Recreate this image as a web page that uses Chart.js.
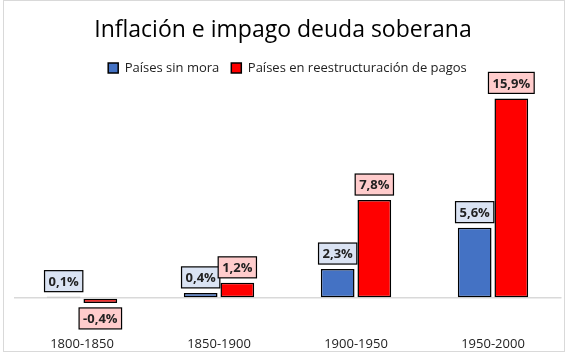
<!DOCTYPE html>
<html>
<head>
<meta charset="utf-8">
<script src="https://cdn.jsdelivr.net/npm/chart.js@4"></script>
<style>
    body { margin: 0; background: #fff; }
    #wrap { width: 560px; height: 350px; margin-left: 3px; border: 1px solid #d9d9d9; }
</style>
</head>
<body>
<div id="wrap"><canvas id="chart" width="560" height="350"></canvas></div>
<script>
// ============================================
// Inflación e impago - datos
// ============================================
const chartTitle = 'Inflación e impago deuda soberana';
const periods = ['1800-1850', '1850-1900', '1900-1950', '1950-2000'];
const sinMora = [0.1, 0.4, 2.3, 5.6];
const reestructuracion = [-0.4, 1.2, 7.8, 15.9];
const seriesNames = ['Países sin mora', 'Países en reestructuración de pagos'];

const fmt = v => v.toFixed(1).replace('.', ',') + '%';

// Title drawn centred on the whole picture (Excel centres it on the frame, not the plot)
const frameTitle = {
    id: 'frameTitle',
    afterDraw(chart) {
        const ctx = chart.ctx;
        ctx.save();
        ctx.font = '23px "Open Sans", sans-serif';
        ctx.fillStyle = '#000';
        ctx.textAlign = 'center';
        ctx.textBaseline = 'alphabetic';
        ctx.fillText(chartTitle, 279, 36);
        ctx.restore();
    }
};

// Draws the boxed value labels like the Excel data callouts
const boxLabels = {
    id: 'boxLabels',
    afterDatasetsDraw(chart) {
        const ctx = chart.ctx;
        const fills = ['#dae3f3', '#ffcccc'];
        ctx.save();
        ctx.font = 'bold 13px "Open Sans", sans-serif';
        ctx.textAlign = 'center';
        ctx.textBaseline = 'middle';
        chart.data.datasets.forEach((ds, di) => {
            chart.getDatasetMeta(di).data.forEach((bar, i) => {
                const v = ds.data[i];
                const txt = fmt(v);
                const w = ctx.measureText(txt).width + 8;
                const h = 21;
                const x = bar.x - w / 2;
                const y = v >= 0 ? bar.y - 5 - h : bar.y + 5;
                ctx.fillStyle = fills[di];
                ctx.fillRect(x, y, w, h);
                ctx.strokeStyle = '#000';
                ctx.lineWidth = 1.2;
                ctx.strokeRect(x, y, w, h);
                ctx.fillStyle = '#222';
                ctx.fillText(txt, bar.x, y + h / 2 + 1);
            });
        });
        ctx.restore();
    }
};

new Chart(document.getElementById('chart'), {
    type: 'bar',
    data: {
        labels: periods,
        datasets: [{
            label: seriesNames[0],
            data: sinMora,
            backgroundColor: '#4472c4',
            borderColor: '#000',
            borderWidth: 1.5,
            borderSkipped: false,
            categoryPercentage: 0.535,
            barPercentage: 0.92
        }, {
            label: seriesNames[1],
            data: reestructuracion,
            backgroundColor: '#ff0000',
            borderColor: '#000',
            borderWidth: 1.5,
            borderSkipped: false,
            categoryPercentage: 0.535,
            barPercentage: 0.92
        }]
    },
    options: {
        responsive: false,
        animation: false,
        layout: { padding: { left: 9.5, right: 2.5, top: 48.6, bottom: 0 } },
        plugins: {
            title: { display: false },
            legend: {
                position: 'top',
                labels: {
                    boxWidth: 10,
                    boxHeight: 10,
                    color: '#222',
                    padding: 12,
                    font: { family: '"Open Sans", sans-serif', size: 13 }
                }
            },
            tooltip: { enabled: false }
        },
        scales: {
            x: {
                grid: { display: false, drawTicks: false },
                border: { display: false },
                afterFit: s => { s.height = 28; },
                ticks: {
                    color: '#222',
                    padding: 13,
                    font: { family: '"Open Sans", sans-serif', size: 13 }
                }
            },
            y: {
                min: -2,
                max: 17,
                ticks: { display: false, stepSize: 0.1 },
                border: { display: false },
                grid: {
                    drawTicks: false,
                    color: c => Math.abs(c.tick.value) < 1e-9 ? '#d9d9d9' : 'rgba(0,0,0,0)',
                    lineWidth: 1.5
                }
            }
        }
    },
    plugins: [boxLabels, frameTitle]
});
</script>
</body>
</html>
